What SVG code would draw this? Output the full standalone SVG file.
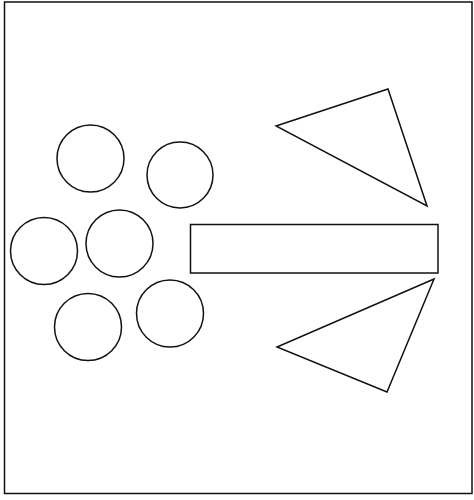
<svg xmlns="http://www.w3.org/2000/svg" width="474" height="500" viewBox="0 0 474 500">
<style>
.s{fill:none;stroke:#111;stroke-width:1.5;stroke-linejoin:miter}
</style>
<rect width="474" height="500" fill="#fff"/>
<rect class="s" x="4.5" y="2" width="467.5" height="491.5" stroke-width="2"/>
<g id="circles">
<circle id="c1" class="s" cx="90.5" cy="158.5" r="33.5"/>
<circle id="c2" class="s" cx="180" cy="175" r="33"/>
<circle id="c3" class="s" cx="44" cy="251" r="33.5"/>
<circle id="c4" class="s" cx="119.5" cy="243.5" r="33.5"/>
<circle id="c5" class="s" cx="88" cy="327" r="33.5"/>
<circle id="c6" class="s" cx="170" cy="313.5" r="33.5"/>
</g>
<g id="rect"><rect class="s" x="190.5" y="224.5" width="247.5" height="48.5"/></g>
<g id="tri1"><polygon class="s" points="276,126 388,89 427,206"/></g>
<g id="tri2"><polygon class="s" points="434,279 277,347 387,392"/></g>
</svg>
